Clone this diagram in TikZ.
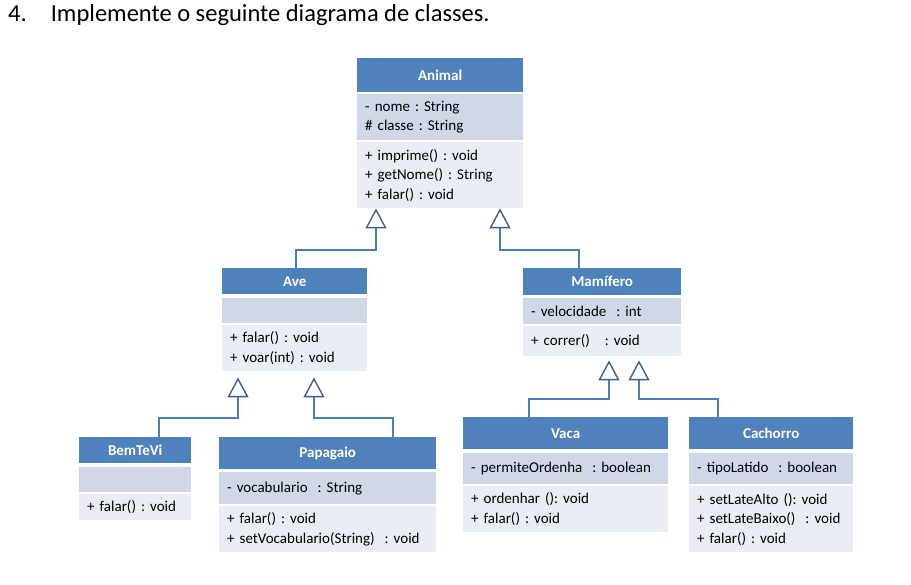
\documentclass[tikz,border=0pt]{standalone}
\usepackage{fontspec}
\setmainfont{Carlito}
\usetikzlibrary{arrows.meta,calc}
\definecolor{headblue}{HTML}{4F81BD}
\definecolor{attrblue}{HTML}{D0D8E8}
\definecolor{methblue}{HTML}{E9EDF4}
\definecolor{linkblue}{HTML}{4A7EBB}
\definecolor{tipblue}{HTML}{3D5F8C}
\frenchspacing
\tikzset{
  umlhead/.style={fill=headblue, text=white, font=\fontsize{15}{18}\selectfont\bfseries,
    anchor=north west, inner sep=0pt, align=center},
  umlattr/.style={fill=attrblue, font=\fontsize{15}{19.5}\selectfont,
    anchor=north west, inner xsep=8pt, inner ysep=0pt, align=left},
  umlmeth/.style={umlattr, fill=methblue},
  inherit/.style={draw=linkblue, line width=1.4pt,
    -{Triangle[open, length=20pt, width=21pt, color=tipblue, fill=white, line width=1.4pt]}}
}
\begin{document}
\begin{tikzpicture}[x=1pt,y=-1pt]
    \useasboundingbox (0,0) rectangle (911,585);
    \node[anchor=base west, font=\fontsize{24.5}{28}\selectfont, inner sep=0pt] (title) at (8,22)
        {4.\hspace{24pt}Implemente o seguinte diagrama de classes.};
    % Animal
    \node[umlhead, minimum width=166pt, minimum height=34pt] (animal) at (357,58) {Animal};
    \node[umlattr, text width=150pt, minimum height=46pt] (animala) at (357,94) {- nome : String\\\# classe : String};
    \node[umlmeth, text width=150pt, minimum height=66pt] (animalm) at (357,142) {+ imprime() : void\\+ getNome() : String\\+ falar() : void};
    % Ave
    \node[umlhead, minimum width=145pt, minimum height=26pt] (ave) at (222,268) {Ave};
    \node[umlattr, text width=129pt, minimum height=25pt] (avea) at (222,298) {};
    \node[umlmeth, text width=129pt, minimum height=46pt] (avem) at (222,325) {+ falar() : void\\+ voar(int) : void};
    % Mamifero
    \node[umlhead, minimum width=158pt, minimum height=27pt] (mamifero) at (523,268) {Mamífero};
    \node[umlattr, text width=142pt, minimum height=26pt] (mamiferoa) at (523,298) {- velocidade\ \ : int};
    \node[umlmeth, text width=142pt, minimum height=30pt] (mamiferom) at (523,326) {+ correr()\ \ \ : void};
    % BemTeVi
    \node[umlhead, minimum width=112pt, minimum height=26pt] (bemtevi) at (79,437) {BemTeVi};
    \node[umlattr, text width=96pt, minimum height=25pt] (bemtevia) at (79,467) {};
    \node[umlmeth, text width=96pt, minimum height=26pt] (bemtevim) at (79,494) {+ falar() : void};
    % Papagaio
    \node[umlhead, minimum width=217pt, minimum height=32pt] (papagaio) at (219,437) {Papagaio};
    \node[umlattr, text width=201pt, minimum height=32pt] (papagaioa) at (219,472) {- vocabulario\ \ : String};
    \node[umlmeth, text width=201pt, minimum height=46pt] (papagaiom) at (219,506) {+ falar() : void\\+ setVocabulario(String)\ \ : void};
    % Vaca
    \node[umlhead, minimum width=205pt, minimum height=32pt] (vaca) at (463,417) {Vaca};
    \node[umlattr, text width=189pt, minimum height=31pt] (vacaa) at (463,453) {- permiteOrdenha\ \ : boolean};
    \node[umlmeth, text width=189pt, minimum height=46pt] (vacam) at (463,486) {+ ordenhar (): void\\+ falar() : void};
    % Cachorro
    \node[umlhead, minimum width=164pt, minimum height=32pt] (cachorro) at (689,417) {Cachorro};
    \node[umlattr, text width=148pt, minimum height=31pt] (cachorroa) at (689,453) {- tipoLatido\ \ : boolean};
    \node[umlmeth, text width=148pt, minimum height=66pt] (cachorrom) at (689,486) {+ setLateAlto (): void\\+ setLateBaixo()\ \ : void\\+ falar() : void};
    % triangle tips
    \coordinate (animalL) at ($(animalm.south west)+(19,0)$);
    \coordinate (animalR) at ($(animalm.south west)+(143,0)$);
    \coordinate (aveL) at ($(avem.south west)+(16,6)$);
    \coordinate (aveR) at ($(avem.south west)+(92,6)$);
    \coordinate (mamiferoL) at ($(mamiferom.south west)+(86,4)$);
    \coordinate (mamiferoR) at ($(mamiferom.south west)+(116,4)$);
    % inheritance
    \draw[inherit] ($(ave.north west)+(74,0)$) -- ++(0,-18) -| (animalL);
    \draw[inherit] ($(mamifero.north west)+(56,0)$) -- ++(0,-18) -| (animalR);
    \draw[inherit] ($(bemtevi.north west)+(80,0)$) -- ++(0,-19) -| (aveL);
    \draw[inherit] ($(papagaio.north west)+(174,0)$) -- ++(0,-19) -| (aveR);
    \draw[inherit] ($(vaca.north west)+(66,0)$) -- ++(0,-18) -| (mamiferoL);
    \draw[inherit] ($(cachorro.north west)+(29,0)$) -- ++(0,-18) -| (mamiferoR);
\end{tikzpicture}
\end{document}
